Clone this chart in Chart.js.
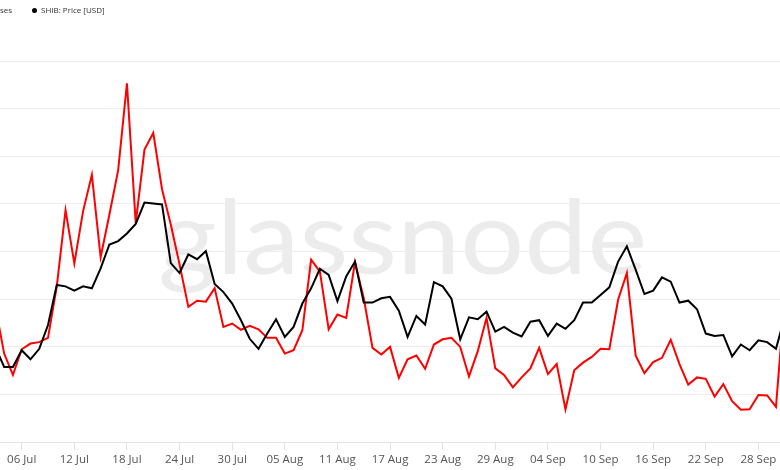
<!DOCTYPE html>
<html>
<head>
<meta charset="utf-8">
<script src="https://cdn.jsdelivr.net/npm/chart.js@4.4.1/dist/chart.umd.min.js"></script>
<style>
  html, body { margin: 0; padding: 0; background: #ffffff; overflow: hidden; }
  #wrap { position: relative; width: 780px; height: 470px; overflow: hidden; }
  #c { position: absolute; left: 0; top: 0; }
  .leg { position: absolute; top: 4px; font-family: "Open Sans", sans-serif; font-size: 8px;
         color: #333333; white-space: nowrap; display: flex; align-items: center; line-height: 12px; }
  .dot { display: inline-block; width: 5px; height: 5px; border-radius: 50%; margin-right: 4px; }
</style>
</head>
<body>
<div id="wrap">
  <canvas id="c" width="780" height="470"></canvas>
  <div class="leg" id="leg1" style="right:768px"><span class="dot" style="background:#ff0000"></span><span id="leg1t"></span></div>
  <div class="leg" id="leg2" style="left:32px"><span class="dot" style="background:#000000"></span><span id="leg2t"></span></div>
</div>
<script>
// ---- data (daily points; day 0 = 06 Jul) ----
const seriesNames = ['SHIB: Active Addresses', 'SHIB: Price [USD]'];
const firstDay = -3;   // first plotted day (03 Jul) relative to 06 Jul

const tickDays   = [0, 6, 12, 18, 24, 30, 36, 42, 48, 54, 60, 66, 72, 78, 84];
const tickLabels = ['06 Jul', '12 Jul', '18 Jul', '24 Jul', '30 Jul', '05 Aug', '11 Aug', '17 Aug',
                    '23 Aug', '29 Aug', '04 Sep', '10 Sep', '16 Sep', '22 Sep', '28 Sep'];

// values in relative units (the value axes are cropped out of the picture)
const activeAddresses = [
  2.84, 1.86, 1.41, 1.95, 2.07, 2.10, 2.19, 3.27, 4.87, 3.75,
  4.85, 5.61, 3.88, 4.78, 5.71, 7.53, 4.60, 6.14, 6.49, 5.31,
  4.57, 3.73, 2.84, 2.97, 2.95, 3.23, 2.42, 2.49, 2.36, 2.44,
  2.37, 2.19, 2.19, 1.86, 1.93, 2.35, 3.83, 3.58, 2.37, 2.68,
  2.61, 3.78, 3.02, 1.98, 1.84, 2.00, 1.35, 1.74, 1.82, 1.54,
  2.05, 2.16, 2.19, 2.00, 1.38, 1.91, 2.61, 1.55, 1.41, 1.15,
  1.36, 1.55, 1.98, 1.43, 1.64, 0.69, 1.51, 1.67, 1.79, 1.96,
  1.95, 2.99, 3.55, 1.82, 1.45, 1.68, 1.77, 2.15, 1.64, 1.21,
  1.36, 1.33, 0.96, 1.22, 0.86, 0.68, 0.69, 0.99, 0.98, 0.74,
  3.05
];
const price = [
  2.00, 1.58, 1.58, 1.93, 1.74, 1.96, 2.46, 3.30, 3.27, 3.18,
  3.27, 3.23, 3.65, 4.15, 4.22, 4.38, 4.58, 5.03, 5.01, 4.99,
  3.76, 3.55, 3.94, 3.84, 4.01, 3.32, 3.15, 2.91, 2.56, 2.17,
  1.96, 2.28, 2.58, 2.21, 2.42, 2.91, 3.23, 3.64, 3.51, 2.96,
  3.48, 3.79, 2.93, 2.93, 3.02, 3.05, 2.76, 2.21, 2.65, 2.47,
  3.36, 3.27, 3.01, 2.16, 2.62, 2.58, 2.74, 2.32, 2.42, 2.30,
  2.22, 2.53, 2.56, 2.23, 2.49, 2.38, 2.56, 2.93, 2.93, 3.09,
  3.25, 3.79, 4.11, 3.62, 3.11, 3.18, 3.46, 3.37, 2.93, 2.97,
  2.79, 2.28, 2.23, 2.25, 1.80, 2.05, 1.93, 2.14, 2.10, 1.96,
  2.63
];

const toPoints = arr => arr.map((v, i) => ({ x: firstDay + i, y: v }));

document.getElementById('leg1t').textContent = seriesNames[0];
document.getElementById('leg2t').textContent = seriesNames[1];

const watermark = {
  id: 'watermark',
  beforeDatasetsDraw(chart) {
    const ctx = chart.ctx;
    ctx.save();
    ctx.font = '400 102px Lato';
    const w = ctx.measureText('glassnode').width;
    ctx.fillStyle = '#ececec';
    ctx.textBaseline = 'alphabetic';
    ctx.translate(158, 274);
    ctx.scale(489 / w, 1);
    ctx.fillText('glassnode', 0, 0);
    ctx.restore();
  }
};

new Chart(document.getElementById('c'), {
  type: 'line',
  data: {
    datasets: [
      { label: seriesNames[1], data: toPoints(price), yAxisID: 'y1', order: 0,
        borderColor: '#000000', borderWidth: 2, pointRadius: 0, tension: 0, fill: false },
      { label: seriesNames[0], data: toPoints(activeAddresses), yAxisID: 'y', order: 1,
        borderColor: '#ff0000', borderWidth: 2, pointRadius: 0, tension: 0, fill: false }
    ]
  },
  options: {
    responsive: false,
    animation: false,
    layout: { padding: { top: 61, bottom: 0, left: 0, right: 0 } },
    plugins: { legend: { display: false }, tooltip: { enabled: false } },
    scales: {
      x: {
        type: 'linear',
        min: -2.474,
        max: 86.46,
        afterBuildTicks: s => { s.ticks = tickDays.map(v => ({ value: v })); },
        ticks: {
          autoSkip: false, maxRotation: 0, padding: 3, color: '#555555',
          font: { family: 'Open Sans', size: 11.5 },
          callback: (v) => tickLabels[tickDays.indexOf(v)]
        },
        grid: { drawOnChartArea: false, drawTicks: true, tickLength: 8, color: '#e3e3e3' },
        border: { display: true, color: '#e3e3e3' }
      },
      y: {
        position: 'left', min: 0, max: 8,
        ticks: { display: false, stepSize: 1 },
        grid: { color: '#ededed', drawTicks: false },
        border: { display: false }
      },
      y1: { position: 'right', display: false, min: 0, max: 8 }
    }
  },
  plugins: [watermark]
});
</script>
</body>
</html>
